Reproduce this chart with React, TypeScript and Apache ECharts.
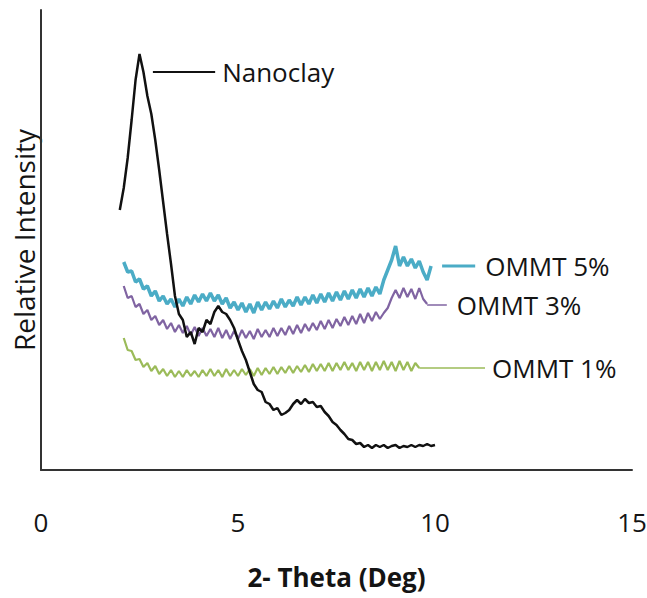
import React, { useEffect, useRef } from "react";
import * as echarts from "echarts";

// 2-theta grid (deg)
const twoTheta = [
  2.0, 2.1, 2.2, 2.3, 2.4, 2.5, 2.6, 2.7, 2.8, 2.9,
  3.0, 3.1, 3.2, 3.3, 3.4, 3.5, 3.6, 3.7, 3.8, 3.9,
  4.0, 4.1, 4.2, 4.3, 4.4, 4.5, 4.6, 4.7, 4.8, 4.9,
  5.0, 5.1, 5.2, 5.3, 5.4, 5.5, 5.6, 5.7, 5.8, 5.9,
  6.0, 6.1, 6.2, 6.3, 6.4, 6.5, 6.6, 6.7, 6.8, 6.9,
  7.0, 7.1, 7.2, 7.3, 7.4, 7.5, 7.6, 7.7, 7.8, 7.9,
  8.0, 8.1, 8.2, 8.3, 8.4, 8.5, 8.6, 8.7, 8.8, 8.9,
  9.0, 9.1, 9.2, 9.3, 9.4, 9.5, 9.6, 9.7, 9.8, 9.9,
  10.0,
];

// Relative intensity (arbitrary units)
const nanoclay = [
  260, 282, 312, 350, 390, 416, 398, 374, 356, 330,
  300, 268, 236, 206, 174, 156, 150, 133, 138, 126,
  142, 138, 150, 146, 158, 164, 158, 156, 150, 142,
  130, 119, 110, 98, 86, 80, 78, 68, 66, 60,
  62, 55, 57, 60, 66, 70, 66, 71, 67, 68,
  63, 64, 58, 54, 48, 45, 40, 36, 31, 30,
  26, 27, 23, 25, 22, 25, 23, 25, 22, 24,
  25, 22, 24, 23, 25, 23, 25, 24, 26, 24,
  25,
];

const ommt5 = [
  null, 208, 198, 199, 188, 191, 181, 184, 174, 179,
  169, 174, 166, 171, 163, 171, 164, 173, 166, 175,
  168, 176, 169, 177, 169, 175, 166, 172, 162, 168,
  160, 167, 158, 166, 157, 168, 160, 168, 161, 169,
  162, 171, 163, 170, 164, 173, 165, 173, 166, 175,
  167, 176, 168, 177, 169, 178, 170, 179, 171, 180,
  172, 181, 173, 182, 174, 183, 176, 190, 200, 210,
  224, 204, 213, 204, 211, 202, 209, 198, 190, 204,
  null,
];

const ommt3 = [
  null, 184, 172, 174, 163, 166, 156, 160, 150, 154,
  145, 150, 141, 147, 138, 145, 137, 144, 135, 143,
  134, 142, 134, 141, 133, 142, 132, 140, 131, 139,
  131, 140, 132, 139, 131, 141, 133, 140, 133, 142,
  134, 142, 135, 144, 136, 145, 137, 146, 139, 147,
  140, 149, 141, 150, 142, 151, 144, 153, 145, 154,
  146, 156, 147, 157, 149, 158, 151, 157, 162, 172,
  180, 172, 182, 173, 181, 171, 182, 171, 166, null,
  null,
];

const ommt1 = [
  null, 132, 120, 119, 110, 111, 103, 107, 99, 104,
  96, 101, 94, 100, 93, 99, 93, 100, 94, 99,
  93, 100, 94, 101, 94, 100, 93, 101, 94, 100,
  94, 101, 95, 101, 94, 102, 95, 102, 96, 103,
  96, 103, 97, 104, 97, 104, 98, 105, 98, 106,
  99, 106, 99, 107, 99, 107, 100, 108, 100, 107,
  99, 108, 100, 108, 99, 108, 100, 109, 100, 108,
  99, 109, 100, 108, 99, 107, 102, null, null, null,
  null,
];

const seriesNames = ["Nanoclay", "OMMT 5%", "OMMT 3%", "OMMT 1%"];
const seriesColors = ["#111111", "#4BACC6", "#8064A2", "#9BBB59"];

// Leader lines for the in-plot labels: [xStart, xEnd, intensity]
const leaderNanoclay = [2.84, 4.42, 398];
const leaderOmmt5 = [10.18, 11.02, 204];
const leaderOmmt3 = [9.8, 10.3, 165];
const leaderOmmt1 = [9.6, 11.27, 102];

const xTicks = { min: 0, max: 15, interval: 5 };
const yRange = { min: 0, max: 460 };

const FONT = "'Open Sans', 'Noto Sans', sans-serif";
const TEXT = "#141414";

function pairs(vals: (number | null)[]) {
  return twoTheta.map((x, i) => [x, vals[i]]);
}

function leader(name: string, color: string, width: number, seg: number[], dist: number) {
  return {
    type: "line",
    name: name + " label",
    symbol: "none",
    silent: true,
    lineStyle: { color, width },
    z: 3,
    data: [
      [seg[0], seg[2]],
      [seg[1], seg[2]],
    ],
    endLabel: {
      show: true,
      distance: dist,
      formatter: name,
      fontFamily: FONT,
      fontSize: 26,
      color: TEXT,
    },
  };
}

export default function App() {
  const ref = useRef<HTMLDivElement>(null);
  useEffect(() => {
    if (!ref.current) return;
    const chart = echarts.init(ref.current, undefined, { renderer: "svg" });
    const option: any = {
      animation: false,
      backgroundColor: "#ffffff",
      grid: {
        left: 41,
        right: 15,
        top: 10,
        bottom: 128,
        containLabel: false,
        outerBoundsMode: "none",
      },
      xAxis: {
        type: "value",
        min: xTicks.min,
        max: xTicks.max,
        interval: xTicks.interval,
        name: "2- Theta (Deg)",
        nameLocation: "middle",
        nameGap: 94,
        nameTextStyle: {
          fontFamily: FONT,
          fontSize: 26,
          fontWeight: "bold",
          color: TEXT,
        },
        axisLine: { show: true, lineStyle: { color: "#333333", width: 2 } },
        axisTick: { show: false },
        splitLine: { show: false },
        axisLabel: {
          margin: 39,
          fontFamily: FONT,
          fontSize: 26,
          color: TEXT,
        },
      },
      yAxis: {
        type: "value",
        min: yRange.min,
        max: yRange.max,
        name: "Relative Intensity",
        nameLocation: "middle",
        nameGap: 3,
        nameTextStyle: {
          fontFamily: FONT,
          fontSize: 28,
          color: TEXT,
        },
        axisLine: { show: true, lineStyle: { color: "#333333", width: 2 } },
        axisTick: { show: false },
        splitLine: { show: false },
        axisLabel: { show: false },
      },
      series: [
        {
          type: "line",
          name: seriesNames[1],
          symbol: "none",
          lineStyle: { color: seriesColors[1], width: 3.5 },
          data: pairs(ommt5),
          z: 2,
        },
        {
          type: "line",
          name: seriesNames[2],
          symbol: "none",
          lineStyle: { color: seriesColors[2], width: 2.2 },
          data: pairs(ommt3),
          z: 2,
        },
        {
          type: "line",
          name: seriesNames[3],
          symbol: "none",
          lineStyle: { color: seriesColors[3], width: 2.2 },
          data: pairs(ommt1),
          z: 2,
        },
        {
          type: "line",
          name: seriesNames[0],
          symbol: "none",
          lineStyle: { color: seriesColors[0], width: 2.5 },
          data: pairs(nanoclay),
          z: 4,
        },
        leader(seriesNames[0], seriesColors[0], 2, leaderNanoclay, 7),
        leader(seriesNames[1], seriesColors[1], 3, leaderOmmt5, 10),
        leader(seriesNames[2], seriesColors[2], 1.6, leaderOmmt3, 10),
        leader(seriesNames[3], seriesColors[3], 1.6, leaderOmmt1, 7),
      ],
    };
    chart.setOption(option);
    return () => chart.dispose();
  }, []);
  return (
    <div
      ref={ref}
      style={{ position: "fixed", left: 0, top: 0, width: 647, height: 598, background: "#fff" }}
    />
  );
}
